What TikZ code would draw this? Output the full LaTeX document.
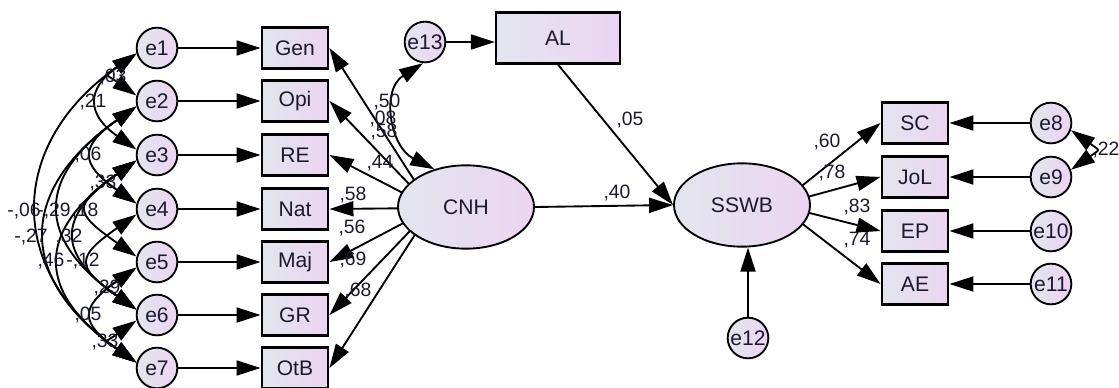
\documentclass[tikz,border=0pt]{standalone}
\usepackage{fontspec}
\setmainfont{Liberation Sans}
\usetikzlibrary{shapes.geometric, arrows.meta}
\definecolor{gradL}{HTML}{E2E6EE}
\definecolor{gradR}{HTML}{ECD4F2}
\definecolor{txt}{HTML}{1A1A30}
\tikzset{
  nodefont/.style={font=\fontsize{18}{20}\selectfont, text=txt},
  obsbox/.style={nodefont, draw, rectangle, line width=1.9pt, minimum width=2.0cm, minimum height=1.23cm, inner sep=0pt, left color=gradL, right color=gradR},
  errc/.style={nodefont, draw, circle, line width=1.6pt, minimum size=1.22cm, inner sep=0pt, left color=gradL, right color=gradR},
  latent/.style={nodefont, draw, ellipse, line width=1.6pt, minimum width=4.08cm, minimum height=2.5cm, inner sep=0pt, left color=gradL, right color=gradR},
  regarrow/.style={line width=1.6pt, -{Triangle[length=0.72cm,width=0.45cm]}},
  cov/.style={line width=1.6pt, {Triangle[length=0.72cm,width=0.45cm]}-{Triangle[length=0.72cm,width=0.45cm]}},
  lab/.style={font=\fontsize{16.5}{18}\selectfont, text=txt, inner sep=0pt},
}
\begin{document}
\begin{tikzpicture}[x=0.03cm, y=0.03cm]
\useasboundingbox (0,0) rectangle (1119,-387);
% left error circles
\node[errc] (e1) at (157,-48) {e1};
\node[errc] (e2) at (157,-101) {e2};
\node[errc] (e3) at (157,-155) {e3};
\node[errc] (e4) at (157,-209) {e4};
\node[errc] (e5) at (157,-262) {e5};
\node[errc] (e6) at (157,-315) {e6};
\node[errc] (e7) at (157,-368) {e7};
% left boxes
\node[obsbox] (Gen) at (295,-48) {Gen};
\node[obsbox] (Opi) at (295,-101) {Opi};
\node[obsbox] (RE) at (295,-155) {RE};
\node[obsbox] (Nat) at (295,-209) {Nat};
\node[obsbox] (Maj) at (295,-262) {Maj};
\node[obsbox] (GR) at (295,-315) {GR};
\node[obsbox] (OtB) at (295,-368) {OtB};
\foreach \e/\b in {e1/Gen,e2/Opi,e3/RE,e4/Nat,e5/Maj,e6/GR,e7/OtB}
  \draw[regarrow] (\e) -- (\b);
% loadings CNH -> boxes
\coordinate (cnhhub) at (432,-208);
\foreach \b in {Gen,Opi,RE,Nat,Maj,GR,OtB}
  \draw[regarrow] (cnhhub) -- (\b.east);
\node[latent] (CNH) at (466,-207) {CNH};
% e13 and AL
\node[errc] (e13) at (425,-42) {e13};
\node[obsbox, minimum width=3.72cm, minimum height=1.53cm] (AL) at (558,-38) {AL};
\draw[regarrow] (e13) -- (e13 -| AL.west);
\draw[cov] (e13.265) to[out=212, in=153, distance=1.5cm] (CNH.130);
% right boxes and errors
\node[obsbox] (SC) at (915,-123) {SC};
\node[obsbox] (JoL) at (915,-177) {JoL};
\node[obsbox] (EP) at (915,-231) {EP};
\node[obsbox] (AE) at (915,-284) {AE};
\node[errc] (e8) at (1051,-123) {e8};
\node[errc] (e9) at (1051,-177) {e9};
\node[errc] (e10) at (1051,-231) {e10};
\node[errc] (e11) at (1051,-284) {e11};
\foreach \e/\b in {e8/SC,e9/JoL,e10/EP,e11/AE}
  \draw[regarrow] (\e) -- (\b);
\draw[cov] (e8.-20) to[out=-35, in=35, distance=1.08cm] (e9.20);
\coordinate (sswbhub) at (778,-205);
\foreach \b in {SC,JoL,EP,AE}
  \draw[regarrow] (sswbhub) -- (\b.west);
% SSWB
\node[latent] (SSWB) at (742,-205) {SSWB};
\draw[regarrow] (CNH.east) -- (SSWB.west);
\draw[regarrow] (AL.south) -- (SSWB.west);
\node[errc] (e12) at (748,-338) {e12};
\draw[regarrow] (e12) -- (e12 |- SSWB.south);
% left covariances
\foreach \a/\b/\d in {e1/e2/1.21, e1/e3/1.84, e2/e4/2.09, e3/e4/1.21, e1/e7/4.77, e2/e6/3.70, e3/e5/2.33, e2/e7/4.38, e3/e6/2.92, e3/e7/3.70, e4/e6/2.23, e5/e6/1.21, e5/e7/2.09, e6/e7/1.21}
  \draw[cov] (\a.195) to[out=215, in=145, distance=\d cm] (\b.165);
% labels
\node[lab] (l1) at (113,-77) {,03};
\node[lab] (l2) at (93,-102) {,21};
\node[lab] (l3) at (88,-155) {,06};
\node[lab] (l4) at (103,-183) {,33};
\node[lab] (l5) at (24,-211) {-,06};
\node[lab] (l6) at (54,-211) {-,29};
\node[lab] (l7) at (85,-211) {,18};
\node[lab] (l8) at (31,-237) {-,27};
\node[lab] (l9) at (69,-237) {,32};
\node[lab] (l10) at (51,-261) {,46};
\node[lab] (l11) at (83,-261) {-,12};
\node[lab] (l12) at (107,-288) {,29};
\node[lab] (l13) at (88,-315) {,05};
\node[lab] (l14) at (105,-342) {,33};
\node[lab] (l15) at (387,-102) {,50};
\node[lab] (l16) at (383,-119) {,08};
\node[lab] (l17) at (384,-132) {,58};
\node[lab] (l18) at (380,-163) {,44};
\node[lab] (l19) at (353,-195) {,58};
\node[lab] (l20) at (352,-228) {,56};
\node[lab] (l21) at (353,-260) {,69};
\node[lab] (l22) at (358,-291) {,68};
\node[lab] (l23) at (630,-120) {,05};
\node[lab] (l24) at (617,-193) {,40};
\node[lab] (l25) at (827,-142) {,60};
\node[lab] (l26) at (832,-173) {,78};
\node[lab] (l27) at (857,-207) {,83};
\node[lab] (l28) at (857,-240) {,74};
\node[lab] (l29) at (1106,-150) {,22};
\end{tikzpicture}
\end{document}
